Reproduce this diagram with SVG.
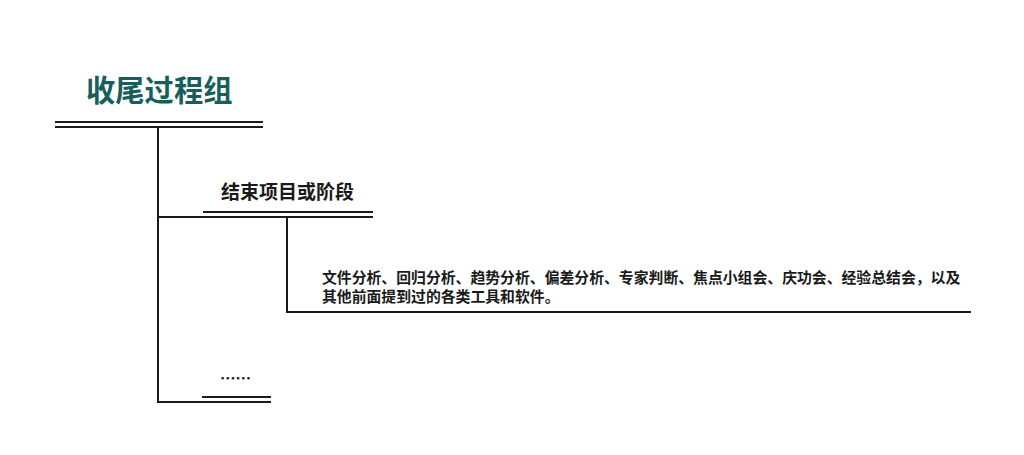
<svg xmlns="http://www.w3.org/2000/svg" width="1024" height="455" viewBox="0 0 1024 455">
<style>
.ln{stroke:#1a1a1a;stroke-width:2;fill:none}
.t{font-family:"Noto Sans CJK SC","Noto Sans",sans-serif;font-weight:bold;fill:#1a1a1a}
</style>
<rect width="1024" height="455" fill="#fff"/>
<g id="root">
<text x="86" y="101" class="t" style="font-size:29.3px;fill:#175f5b">收尾过程组</text>
<line class="ln" x1="55" y1="122" x2="263" y2="122"/>
<line class="ln" x1="55" y1="127" x2="263" y2="127"/>
</g>
<g id="node-close">
<text x="221" y="199" class="t" style="font-size:19px">结束项目或阶段</text>
<line class="ln" x1="203" y1="212" x2="373" y2="212"/>
</g>
<g id="node-tools">
<text class="t" style="font-size:14.85px"><tspan x="322" y="283">文件分析、回归分析、趋势分析、偏差分析、专家判断、焦点小组会、庆功会、经验总结会，以及</tspan><tspan x="322" y="302">其他前面提到过的各类工具和软件。</tspan></text>
</g>
<g id="node-more">
<text x="220" y="384" class="t" style="font-size:15.5px">……</text>
<line class="ln" x1="202" y1="397" x2="271" y2="397"/>
</g>
<g id="connectors">
<polyline class="ln" points="158,127 158,402 271,402"/>
<line class="ln" x1="158" y1="217" x2="373" y2="217"/>
<polyline class="ln" points="287,217 287,312 971,312"/>
</g>
</svg>
